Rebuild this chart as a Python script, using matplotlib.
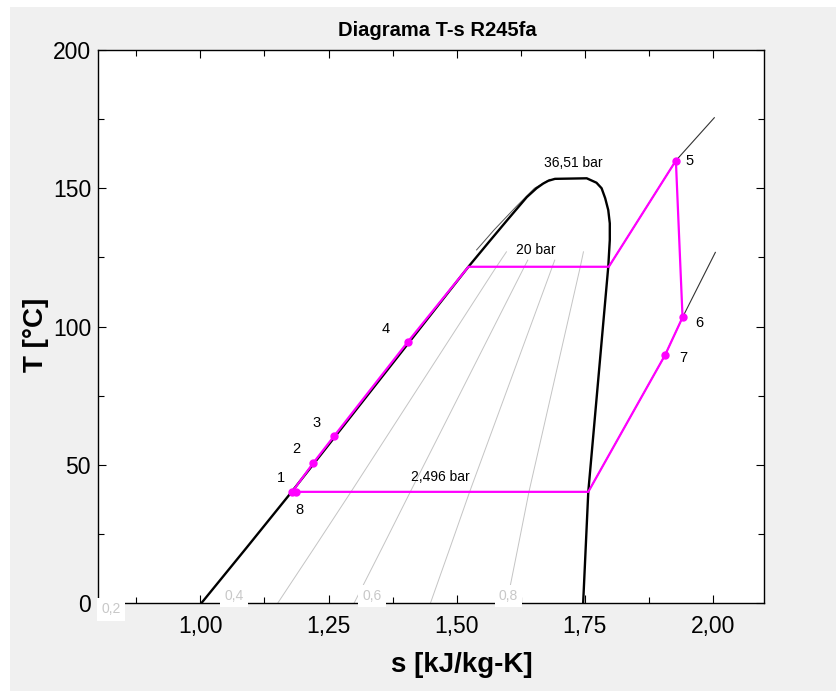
import numpy as np
import matplotlib
matplotlib.use("Agg")
import matplotlib.pyplot as plt
from matplotlib.patches import Rectangle
from matplotlib.ticker import MultipleLocator, FuncFormatter

plt.rcParams['font.family'] = ['Liberation Sans', 'DejaVu Sans']

# Saturation dome of R245fa (s in kJ/kg-K, T in °C)
liq_T = [0.0, 20.0, 40.2, 121.6, 131.0, 138.3, 146.8, 150.0, 151.7, 152.7, 153.4]
liq_s = [1.002, 1.090, 1.178, 1.523, 1.565, 1.598, 1.637, 1.656, 1.669, 1.679, 1.692]
vap_T = [153.6, 152.0, 150.0, 146.4, 142.1, 137.3, 131.3, 121.6, 40.2, 0.0]
vap_s = [1.754, 1.773, 1.783, 1.790, 1.796, 1.799, 1.799, 1.796, 1.757, 1.747]

# Constant-quality lines
qualities = [0.2, 0.4, 0.6, 0.8]
quality_labels = ["0,2", "0,4", "0,6", "0,8"]
quality_T_max = [127.0, 124.0, 124.0, 127.0]

# Cycle state points and the saturation points between them
cycle_names = ["1", "2", "3", "4", "", "", "5", "6", "7", "", "8"]
cycle_s = [1.179, 1.220, 1.261, 1.405, 1.523, 1.797, 1.928, 1.941, 1.907, 1.757, 1.186]
cycle_T = [40.2, 50.6, 60.4, 94.5, 121.6, 121.6, 160.0, 103.3, 89.7, 40.2, 40.2]

# Isobars
iso_hi_s = [1.797, 1.928, 2.003]
iso_hi_T = [121.6, 160.0, 175.5]
iso_lo_s = [1.757, 1.907, 1.941, 2.005]
iso_lo_T = [40.2, 89.7, 103.3, 126.8]
iso_crit_s = [1.539, 1.573, 1.616, 1.652, 1.682]
iso_crit_T = [127.7, 134.9, 143.3, 150.0, 153.2]

x_ticks = [1.00, 1.25, 1.50, 1.75, 2.00]
y_ticks = [0, 50, 100, 150, 200]

fig = plt.figure(figsize=(8.36, 6.91), dpi=100, facecolor='white')
fig.patches.append(Rectangle((10 / 836, 0), 1 - 10 / 836, 1 - 7 / 691,
                             transform=fig.transFigure, facecolor='#f0f0f0',
                             edgecolor='none', zorder=-10))
ax = fig.add_axes([98 / 836, 1 - 603 / 691, (764 - 98) / 836, (603 - 50) / 691])
ax.set_facecolor('white')

# quality lines
sf = lambda T: np.interp(T, liq_T, liq_s)
sg = lambda T: np.interp(T, vap_T[::-1], vap_s[::-1])
for q, tmax in zip(qualities, quality_T_max):
    T = np.linspace(0, tmax, 60)
    ax.plot(sf(T) + q * (sg(T) - sf(T)), T, color='#c4c4c4', lw=0.7, zorder=1)

# quality labels along the bottom
label_pos = [(0.826, -2.3), (1.066, 2.6), (1.335, 2.6), (1.601, 2.6)]
for txt, (sx, ty) in zip(quality_labels, label_pos):
    ax.text(sx, ty, txt, color='#c8c8c8', fontsize=10, ha='center', va='center',
            bbox=dict(facecolor='white', edgecolor='none', pad=3),
            clip_on=False, zorder=5)

# saturation dome
ax.plot(liq_s + vap_s, liq_T + vap_T, color='black', lw=1.7, zorder=3,
        solid_joinstyle='round')

# isobars
ax.plot(iso_hi_s, iso_hi_T, color='#333333', lw=0.8, zorder=2)
ax.plot(iso_lo_s, iso_lo_T, color='#333333', lw=0.8, zorder=2)
ax.plot(iso_crit_s, iso_crit_T, color='#555555', lw=0.7, zorder=2)

# cycle
ax.plot(cycle_s + [cycle_s[0]], cycle_T + [cycle_T[0]], color='#ff00ff', lw=1.6, zorder=4)
offsets = {"1": (-8, 10), "2": (-12, 10), "3": (-13, 9), "4": (-16, 9),
           "5": (10, 0), "6": (12, -4), "7": (13, -2), "8": (3, -13)}
for name, s, T in zip(cycle_names, cycle_s, cycle_T):
    if not name:
        continue
    ax.plot(s, T, 'o', color='#ff00ff', ms=5, zorder=5)
    ax.annotate(name, (s, T), xytext=offsets[name], textcoords='offset points',
                fontsize=10.5, ha='center', va='center', zorder=6)

ax.text(1.727, 159.3, "36,51 bar", fontsize=10, ha='center', va='center')
ax.text(1.655, 127.8, "20 bar", fontsize=10, ha='center', va='center')
ax.text(1.468, 45.6, "2,496 bar", fontsize=10, ha='center', va='center')

ax.set_xlim(0.8, 2.1)
ax.set_ylim(0, 200)
ax.set_xticks(x_ticks)
ax.set_yticks(y_ticks)
ax.xaxis.set_minor_locator(MultipleLocator(0.125))
ax.yaxis.set_minor_locator(MultipleLocator(25))
ax.xaxis.set_major_formatter(FuncFormatter(lambda v, p: f"{v:.2f}".replace('.', ',')))
ax.tick_params(which='both', direction='in', top=True, right=True, labelsize=16.5)
ax.tick_params(axis='x', which='major', pad=9)
ax.tick_params(axis='y', which='major', pad=5)
ax.tick_params(which='major', length=6, width=0.8)
ax.tick_params(which='minor', length=4, width=0.8)
for sp in ax.spines.values():
    sp.set_linewidth(1.0)

fig.text(437 / 836, 1 - 31 / 691, "Diagrama T-s R245fa", fontsize=14.5,
         fontweight='bold', ha='center', va='center')
fig.text(462 / 836, 1 - 665 / 691, "s [kJ/kg-K]", fontsize=20,
         fontweight='bold', ha='center', va='center')
fig.text(36 / 836, 1 - 335 / 691, "T [°C]", fontsize=20, fontweight='bold',
         ha='center', va='center', rotation=90)

fig.savefig("out.png", dpi=100, facecolor=fig.get_facecolor())
